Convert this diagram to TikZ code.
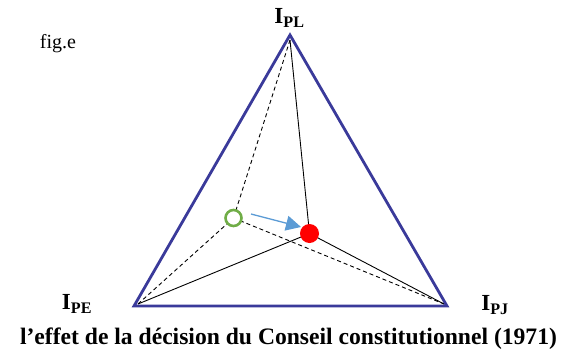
\documentclass[tikz,border=0pt]{standalone}
\usepackage{fontspec}
\setmainfont{Liberation Serif}
\usetikzlibrary{arrows.meta}
\definecolor{tri}{HTML}{3A3A9A}
\definecolor{grn}{HTML}{70AD47}
\definecolor{arr}{HTML}{5B9BD5}
\tikzset{
  edge/.style={draw=black, line width=0.9pt},
  dashedge/.style={draw=black, line width=0.9pt, dash pattern=on 4pt off 3pt},
  lbl/.style={font=\bfseries\fontsize{23}{26}\selectfont, inner sep=0pt},
  reddot/.style={circle, fill=red, minimum size=19pt, inner sep=0pt},
  greendot/.style={circle, draw=grn, fill=white, line width=2.6pt, minimum size=16pt, inner sep=0pt}
}
\begin{document}
\begin{tikzpicture}[x=1pt,y=-1pt]
\useasboundingbox (0,0) rectangle (576,360);
\coordinate (PL) at (290,35);
\coordinate (PE) at (134,306);
\coordinate (PJ) at (447,306);
\coordinate (PLi) at (290,40);
\coordinate (PEi) at (138,304);
\coordinate (PJi) at (444,304);
\coordinate (R) at (309.5,233.5);
\coordinate (G) at (233.5,218);
\draw[dashedge] (PLi) -- (G);
\draw[dashedge] (PEi) -- (G);
\draw[dashedge] (G) -- (PJi);
\draw[edge] (PLi) -- (R);
\draw[edge] (PEi) -- (R);
\draw[edge] (R) -- (PJi);
\node[reddot] (Rd) at (R) {};
\node[greendot] (Gd) at (G) {};
\draw[tri, line width=2.8pt, line join=miter] (PL) -- (PE) -- (PJ) -- cycle;
\coordinate (A1) at (251,214);
\coordinate (A2) at (301,227);
\draw[arr, line width=1.3pt, -{Triangle[length=15pt,width=15pt]}] (A1) -- (A2);
\node[lbl] (LPL) at (289.5,18) {I\textsubscript{PL}};
\node[lbl] (LPE) at (77,304) {I\textsubscript{PE}};
\node[lbl] (LPJ) at (495,305) {I\textsubscript{PJ}};
\node[inner sep=0pt, font=\fontsize{20}{24}\selectfont] (fig) at (58,44) {fig.e};
\node[inner sep=0pt, font=\bfseries\fontsize{23.6}{28}\selectfont] (cap) at (288.5,339) {l’effet de la décision du Conseil constitutionnel (1971)};
\end{tikzpicture}
\end{document}
